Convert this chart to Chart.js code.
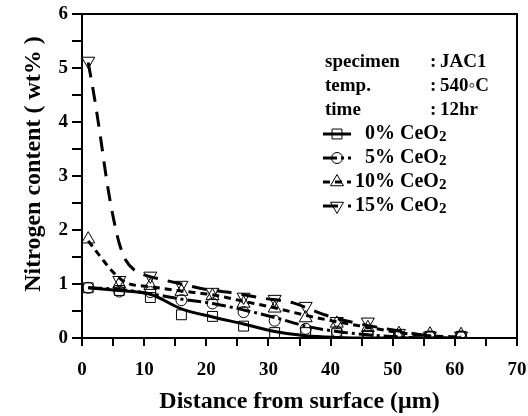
<!DOCTYPE html>
<html>
<head>
<meta charset="utf-8">
<script src="https://cdn.jsdelivr.net/npm/chart.js@4.4.1/dist/chart.umd.min.js"></script>
<style>
  html, body { margin: 0; padding: 0; background: #fff; }
</style>
</head>
<body>
<canvas id="nitrogen-chart" width="528" height="416"></canvas>
<script>
// measured points (markers)
const distance = [1, 6, 11, 16, 21, 26, 31, 36, 41, 46, 51, 56, 61];
const ceo2_0 = [0.93, 0.88, 0.75, 0.43, 0.4, 0.22, 0.1, 0.1, 0.08, 0.05, 0.03, 0.03, 0.03];
const ceo2_5 = [0.93, 0.86, 0.85, 0.7, 0.64, 0.48, 0.32, 0.17, 0.12, 0.08, 0.04, 0.03, 0.03];
const ceo2_10 = [1.83, 1.0, 0.97, 0.86, 0.78, 0.64, 0.55, 0.37, 0.27, 0.19, 0.08, 0.07, 0.06];
const ceo2_15 = [5.13, 1.07, 1.15, 0.98, 0.85, 0.76, 0.72, 0.59, 0.31, 0.3, 0.09, 0.04, 0.04];

// fitted curves
const fit0 = [0.93, 0.88, 0.81, 0.54, 0.39, 0.26, 0.12, 0.04, 0.01, 0, 0, 0, 0];
const fit5 = [0.93, 0.9, 0.82, 0.72, 0.64, 0.52, 0.38, 0.22, 0.12, 0.06, 0.02, 0, 0];
const fit10X = [1, 3, 5, 7, 11, 16, 21, 26, 31, 36, 41, 46, 51, 56, 61];
const fit10 = [1.8, 1.5, 1.22, 1.03, 0.95, 0.87, 0.8, 0.68, 0.56, 0.42, 0.3, 0.2, 0.1, 0.04, 0.02];
const fit15X = [1, 2, 3, 4, 5, 6, 7, 8.5, 10, 13, 16, 20, 24, 29, 34, 39, 44, 49, 54, 58];
const fit15 = [5.1, 4.45, 3.7, 2.9, 2.25, 1.75, 1.45, 1.25, 1.17, 1.08, 1.0, 0.9, 0.84, 0.74, 0.65, 0.43, 0.28, 0.17, 0.07, 0.02];

const seriesNames = ["0%", "5%", "10%", "15%"];
const infoLabels = ["specimen", "temp.", "time"];
const infoValues = ["JAC1", "540◦C", "12hr"];

const serif = "'Liberation Serif', 'Times New Roman', serif";
const pts = (xs, ys) => xs.map((x, i) => ({ x: x, y: ys[i] }));

const styles = [
  { pointStyle: "rect", radius: 7, rotation: 0, dash: [] },
  { pointStyle: "circle", radius: 5.5, rotation: 0, dash: [14, 4, 3, 4] },
  { pointStyle: "triangle", radius: 7.5, rotation: 0, dash: [7, 5] },
  { pointStyle: "triangle", radius: 7.5, rotation: 180, dash: [15, 10] },
];

function curve(data, i) {
  return {
    data: data,
    showLine: true,
    borderColor: "#000",
    borderWidth: 3,
    borderDash: styles[i].dash,
    pointRadius: 0,
    cubicInterpolationMode: "monotone",
  };
}

function markers(data, i) {
  return {
    data: data,
    showLine: false,
    pointStyle: styles[i].pointStyle,
    pointRotation: styles[i].rotation,
    pointRadius: styles[i].radius,
    pointBorderWidth: 1,
    pointBorderColor: "#000",
    pointBackgroundColor: "rgba(0,0,0,0)",
  };
}

// frame + legend block drawn on top
const boxPlugin = {
  id: "box",
  afterDraw(chart) {
    const { ctx, chartArea: a } = chart;
    ctx.save();
    ctx.strokeStyle = "#000";
    ctx.lineWidth = 2;
    ctx.beginPath();
    ctx.moveTo(a.left, a.top);
    ctx.lineTo(a.right, a.top);
    ctx.lineTo(a.right, a.bottom);
    ctx.stroke();

    ctx.fillStyle = "#000";
    ctx.textBaseline = "middle";
    ctx.font = "bold 19px " + serif;
    infoLabels.forEach((t, i) => {
      const y = 62 + i * 24;
      ctx.textAlign = "left";
      ctx.fillText(t, 325, y);
      ctx.fillText(":", 430, y);
      ctx.fillText(infoValues[i], 440, y);
    });

    seriesNames.forEach((name, i) => {
      const y = 134 + i * 24;
      const s = styles[i];
      ctx.lineWidth = 3;
      ctx.setLineDash(s.dash);
      ctx.beginPath();
      ctx.moveTo(323, y);
      ctx.lineTo(351, y);
      ctx.stroke();
      ctx.setLineDash([]);
      ctx.lineWidth = 1;
      ctx.fillStyle = "rgba(0,0,0,0)";
      Chart.helpers.drawPoint(ctx, { pointStyle: s.pointStyle, radius: s.radius, rotation: s.rotation, borderWidth: 1 }, 337, y);
      ctx.fillStyle = "#000";
      ctx.font = "bold 20px " + serif;
      ctx.textAlign = "right";
      ctx.fillText(name, 395, y);
      ctx.textAlign = "left";
      ctx.fillText("CeO", 400, y);
      const w = ctx.measureText("CeO").width;
      ctx.font = "bold 15px " + serif;
      ctx.fillText("2", 400 + w, y + 3);
    });
    ctx.restore();
  },
};

const tickFont = { family: serif, size: 19, weight: "bold" };
const titleFont = { family: serif, size: 24, weight: "bold" };

const ctx = document.getElementById("nitrogen-chart");
new Chart(ctx, {
  type: "scatter",
  data: {
    datasets: [
      curve(pts(distance, fit0), 0),
      curve(pts(distance, fit5), 1),
      curve(pts(fit10X, fit10), 2),
      curve(pts(fit15X, fit15), 3),
      markers(pts(distance, ceo2_0), 0),
      markers(pts(distance, ceo2_5), 1),
      markers(pts(distance, ceo2_10), 2),
      markers(pts(distance, ceo2_15), 3),
    ],
  },
  options: {
    responsive: false,
    animation: false,
    layout: { autoPadding: false, padding: { top: 14, right: 11, left: 0, bottom: 0 } },
    plugins: { legend: { display: false }, tooltip: { enabled: false } },
    scales: {
      x: {
        type: "linear",
        min: 0,
        max: 70,
        border: { color: "#000", width: 2 },
        grid: { drawOnChartArea: false, color: "#000", lineWidth: 2, tickLength: 8 },
        ticks: {
          stepSize: 5,
          autoSkip: false,
          maxRotation: 0,
          color: "#000",
          font: tickFont,
          padding: 13,
          callback: (v) => (v % 10 === 0 ? v : ""),
        },
        title: {
          display: true,
          text: "Distance from surface (μm)",
          color: "#000",
          font: titleFont,
          padding: { top: 0, bottom: 0 },
        },
        afterFit: (s) => {
          s.height = 78;
          s.paddingLeft = 0;
          s.paddingRight = 0;
        },
      },
      y: {
        type: "linear",
        min: 0,
        max: 6,
        border: { color: "#000", width: 2 },
        grid: { drawOnChartArea: false, color: "#000", lineWidth: 2, tickLength: 10 },
        ticks: {
          stepSize: 0.5,
          autoSkip: false,
          color: "#000",
          font: tickFont,
          padding: 4,
          callback: (v) => (Number.isInteger(v) ? v : ""),
        },
        title: {
          display: true,
          text: "\u2003Nitrogen content ( wt% )",
          color: "#000",
          font: titleFont,
          padding: { top: 19, bottom: 0 },
        },
        afterFit: (s) => {
          s.width = 82;
          s.paddingTop = 0;
          s.paddingBottom = 0;
        },
      },
    },
  },
  plugins: [boxPlugin],
});
</script>
</body>
</html>
